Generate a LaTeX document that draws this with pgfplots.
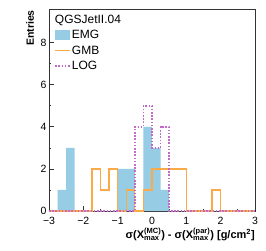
\documentclass[border=0pt]{standalone}
\usepackage{fontspec}
\setmainfont{Liberation Sans}
\usepackage{pgfplots}
\pgfplotsset{compat=1.18}
\definecolor{emg}{RGB}{150,204,228}
\definecolor{gmb}{RGB}{250,170,70}
\definecolor{logc}{RGB}{195,105,200}
\newcommand{\scr}[1]{\mbox{\bfseries\fontsize{7.5}{8}\selectfont #1}}
\begin{document}
\begin{tikzpicture}
\useasboundingbox (-49pt,-39pt) rectangle (217pt,211pt);
\begin{axis}[
  scale only axis, width=206pt, height=202pt,
  xmin=-3, xmax=3, ymin=0, ymax=9.6,
  axis line style={line width=0.8pt, black!80},
  tick align=inside, xtick pos=bottom, ytick pos=left,
  xtick={-3,-2,-1,0,1,2,3},
  xticklabels={−3,−2,−1,0,1,2,3},
  ytick={0,2,4,6,8},
  yticklabels={0,2,4,6,8},
  minor x tick num=1, minor y tick num=1,
  major tick length=5pt, minor tick length=2.5pt,
  tick style={line width=0.7pt, black!80},
  tick label style={font=\fontsize{10.5}{11}\selectfont},
  xticklabel style={yshift=-2.5pt},
  yticklabel style={xshift=1pt},
  legend style={at={(rel axis cs:0.025,0.9)}, anchor=north west, draw=none, fill=none,
     font=\fontsize{12}{13}\selectfont, row sep=3.5pt, inner sep=0pt,
     nodes={inner sep=1pt}},
  legend cell align=left,
  clip mode=individual,
]
\addplot[const plot, fill=emg, draw=none, area legend,
  legend image code/.code={\fill[emg] (0pt,-5pt) rectangle (15pt,5pt);}] coordinates {
  (-3,0) (-2.75,1) (-2.5,3) (-2.25,0) (-1,2) (-0.5,0) (-0.25,4) (0,3) (0.25,1) (0.5,0) (3,0)
} \closedcycle;
\addlegendentry{EMG}
\addplot[const plot, color=gmb, line width=1.3pt,
  legend image code/.code={\draw[gmb, line width=1.3pt] (0pt,0pt) -- (15pt,0pt);}] coordinates {
  (-3,0) (-1.75,2) (-1.5,1) (-1.25,2) (-1,0) (-0.75,1) (-0.5,0) (-0.25,1) (0,2) (1,0) (1.75,1) (2,0) (3,0)
};
\addlegendentry{GMB}
\addplot[const plot, color=logc, line width=1.6pt, dash pattern=on 1.6pt off 1.6pt,
  legend image code/.code={\draw[logc, line width=1.6pt, dash pattern=on 1.6pt off 1.6pt] (0pt,0pt) -- (15pt,0pt);}] coordinates {
  (-3,0) (-0.5,4) (-0.25,5) (0,3) (0.25,4) (0.5,0) (3,0)
};
\addlegendentry{LOG}
\node[anchor=north west, font=\fontsize{12}{13}\selectfont, inner sep=0pt] at (rel axis cs:0.028,0.97) {QGSJetII.04};
\node[rotate=90, anchor=east, font=\bfseries\fontsize{10.5}{12}\selectfont, inner sep=0pt] at ([xshift=-19pt]rel axis cs:0,0.995) {Entries};
\node[anchor=north east, font=\bfseries\fontsize{11}{12}\selectfont, inner sep=0pt] at ([yshift=-16.5pt]rel axis cs:1,0) {σ(X$^{\scr{(MC)}}_{\scr{max}}$) - σ(X$^{\scr{(par)}}_{\scr{max}}$) [g/cm$^{\scr{2}}$]};
\end{axis}
\end{tikzpicture}
\end{document}
